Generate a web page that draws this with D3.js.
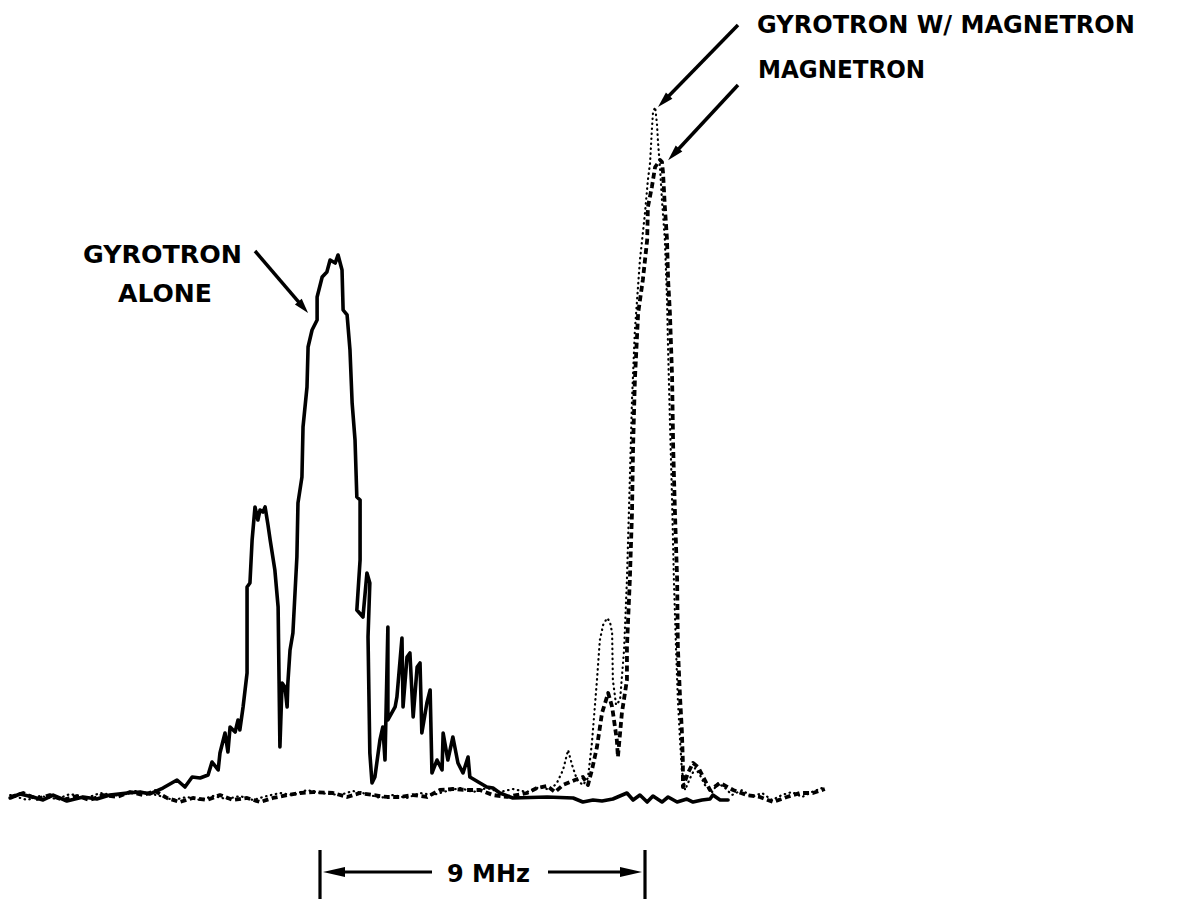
<!DOCTYPE html>
<html>
<head>
<meta charset="utf-8">
<script src="https://cdn.jsdelivr.net/npm/d3@7"></script>
<style>
  html, body { margin: 0; padding: 0; background: #fff; }
  svg { display: block; }
  text { font-family: "DejaVu Sans", "Liberation Sans", Arial, sans-serif; font-weight: bold; fill: #000; }
</style>
</head>
<body>
<svg id="chart" width="1185" height="899"></svg>
<script>
// ---------- DATA (frequency offset in MHz, relative amplitude in arbitrary units) ----------
const gyroAloneFreq = [-8.58,-8.31,-7.95,-7.67,-7.39,-7.01,-6.56,-6.18,-5.82,-5.34,-4.98,-4.71,-4.35,-3.96,-3.74,-3.54,-3.32,-3.10,-2.99,-2.82,-2.77,-2.63,-2.55,-2.49,-2.35,-2.27,-2.22,-2.13,-2.02,-2.02,-1.94,-1.88,-1.80,-1.72,-1.66,-1.58,-1.52,-1.44,-1.38,-1.25,-1.16,-1.11,-1.05,-0.97,-0.91,-0.89,-0.83,-0.75,-0.64,-0.61,-0.50,-0.47,-0.36,-0.33,-0.22,-0.08,-0.08,0.06,0.19,0.28,0.42,0.50,0.61,0.64,0.75,0.83,0.89,0.97,1.02,1.11,1.11,1.02,1.19,1.30,1.38,1.33,1.38,1.44,1.52,1.66,1.74,1.80,1.88,1.88,2.08,2.13,2.27,2.30,2.41,2.49,2.58,2.69,2.77,2.82,2.96,3.05,3.10,3.24,3.38,3.41,3.54,3.68,3.82,3.96,4.10,4.15,4.29,4.43,4.62,4.79,4.98,5.34,6.29,7.01,7.28,7.56,7.81,8.11,8.50,8.67,8.86,9.06,9.22,9.47,9.64,9.89,10.16,10.33,10.58,10.80,10.88,11.08,11.30];
const gyroAloneAmp  = [0.29,0.86,0.43,0,0.71,-0.14,0.43,0.14,0.71,1.0,1.14,0.86,1.71,2.86,1.86,3.29,3.14,3.57,5.43,4.29,6.71,9.57,6.86,10.43,9.71,11.43,10.0,13.29,18.14,30.43,31.0,37.14,41.86,40.0,41.43,41.14,41.86,39.29,37.14,32.86,27.57,7.57,16.71,16.14,13.29,16.71,21.43,23.86,34.71,42.43,46.14,53.29,59.0,64.71,67.14,68.57,71.86,74.71,75.43,77.14,76.71,77.86,75.71,70.0,69.29,64.29,56.71,51.43,43.29,42.86,34.29,27.14,26.14,32.43,31.0,23.29,6.71,2.43,3.29,8.57,10.43,5.71,24.71,11.43,13.29,14.71,23.14,13.29,20.43,21.0,11.86,19.0,19.57,9.57,13.86,15.71,3.86,5.71,4.29,9.57,5.71,9.0,5.29,3.86,6.14,3.29,2.86,2.43,1.86,1.71,1.0,0.29,0.43,0.29,-0.29,0,-0.14,0.14,1.0,0,0.71,-0.29,0.57,-0.29,0.43,-0.29,0.14,-0.29,0,0.14,0.71,0,0];

const magnetronFreq = [-8.58,-8.22,-7.84,-7.48,-7.12,-6.73,-6.37,-6.01,-5.62,-5.26,-4.90,-4.57,-4.24,-3.88,-3.52,-3.13,-2.77,-2.41,-2.02,-1.66,-1.30,-0.91,-0.55,-0.19,0.36,0.75,1.11,1.47,1.86,2.22,2.58,2.96,3.32,3.68,4.07,4.43,4.79,5.18,5.73,6.01,6.29,6.51,6.73,7.06,7.28,7.42,7.53,7.67,7.81,7.98,8.09,8.22,8.25,8.36,8.50,8.50,8.58,8.64,8.67,8.72,8.81,8.94,9.06,9.08,9.19,9.28,9.42,9.47,9.50,9.55,9.61,9.64,9.69,9.75,9.78,9.83,9.89,9.91,9.97,10.02,10.05,10.05,10.19,10.33,10.47,10.61,10.80,11.08,11.44,11.82,12.18,12.55,12.93,13.29,13.65,13.98];
const magnetronAmp  = [0.43,1.0,0.14,0.71,0,0.57,0,0.71,0.43,1.14,0.71,1.29,0.29,-0.29,0.29,0,0.71,0,0.29,-0.29,0.29,0.71,1.0,1.14,1.0,0.43,1.0,0.71,0.43,0.43,0.71,0.43,1.43,1.57,1.43,1.43,0.71,0.43,1.0,1.71,2.0,1.14,2.14,2.86,3.29,2.14,4.29,7.57,12.43,15.29,13.29,8.57,6.14,12.43,17.14,21.86,31.43,41.0,50.43,60.0,69.57,74.29,80.0,84.71,87.57,90.43,91.43,91.14,89.57,84.71,80.0,74.29,69.57,60.43,50.43,41.0,31.43,21.86,14.71,10.0,5.29,1.86,3.86,5.29,4.71,3.29,1.43,2.43,1.43,0.71,0.43,-0.29,0.43,1.0,1.0,1.57];

const gyroMagFreq = [-8.58,-8.11,-7.75,-7.28,-6.92,-6.45,-6.09,-5.54,-5.12,-4.76,-4.43,-4.07,-3.68,-3.32,-2.96,-2.58,-2.22,-1.86,-1.47,-1.11,-0.75,-0.36,0,0.55,0.91,1.30,1.66,2.02,2.41,2.77,3.13,3.52,3.88,4.24,4.62,4.98,5.34,5.73,6.09,6.37,6.56,6.73,6.87,6.98,7.12,7.28,7.42,7.53,7.67,7.75,7.84,7.95,8.03,8.09,8.11,8.20,8.31,8.42,8.50,8.58,8.64,8.72,8.86,9.00,9.08,9.14,9.19,9.22,9.28,9.33,9.36,9.42,9.47,9.55,9.61,9.64,9.69,9.75,9.80,9.86,9.91,9.97,10.02,10.11,10.25,10.39,10.52,10.66,10.86,11.02,11.22,11.41,11.69,11.96,12.24,12.52,12.79,13.07,13.35,13.62,13.90];
const gyroMagAmp  = [0.71,0,0.57,0.14,0.86,0.29,1.0,0.57,1.29,1.0,0.57,0,0.43,0,0.57,0.14,0.57,0,0.57,1.0,0.71,1.43,1.0,0.71,1.29,0.86,0.29,0.71,0.29,1.0,0.71,1.29,1.71,1.14,1.71,1.14,1.57,1.14,1.86,1.43,2.43,4.29,7.14,5.0,2.86,2.14,3.14,8.14,17.14,22.86,25.0,26.0,25.43,23.86,17.14,13.57,14.29,21.43,31.43,45.71,57.14,67.14,77.14,83.86,88.57,91.0,95.71,98.14,99.0,96.71,94.0,90.0,85.71,80.0,71.43,64.29,54.29,42.86,31.43,21.43,14.29,8.57,4.29,1.43,3.14,4.57,3.57,2.14,1.14,2.43,1.71,0.71,1.43,0.43,1.0,0,0.71,1.14,0.43,1.14,1.71];

const seriesLabels = ["GYROTRON ALONE", "MAGNETRON", "GYROTRON W/ MAGNETRON"];
const scaleSpanMHz = 9;
const scaleLabel = "9 MHz";

// ---------- SCALES ----------
const svg = d3.select("#chart");
const x = d3.scaleLinear().domain([0, scaleSpanMHz]).range([320, 645]);
const y = d3.scaleLinear().domain([0, 100]).range([800, 100]);

const line = d3.line().x(d => x(d[0])).y(d => y(d[1])).curve(d3.curveLinear);
const zip = (a, b) => a.map((v, i) => [v, b[i]]);

// ---------- TRACES ----------
svg.append("path").datum(zip(gyroAloneFreq, gyroAloneAmp))
  .attr("d", line).attr("fill", "none").attr("stroke", "#000")
  .attr("stroke-width", 3.6).attr("stroke-linejoin", "round").attr("stroke-linecap", "round");

svg.append("path").datum(zip(magnetronFreq, magnetronAmp))
  .attr("d", line).attr("fill", "none").attr("stroke", "#000")
  .attr("stroke-width", 3.8).attr("stroke-dasharray", "6,3.5").attr("stroke-linejoin", "round");

svg.append("path").datum(zip(gyroMagFreq, gyroMagAmp))
  .attr("d", line).attr("fill", "none").attr("stroke", "#000")
  .attr("stroke-width", 2.2).attr("stroke-dasharray", "0.5,4.5").attr("stroke-linecap", "round");

// ---------- ANNOTATION ARROWS ----------
function arrow(x1, y1, x2, y2, headLen, headHalf, width) {
  const dx = x2 - x1, dy = y2 - y1, L = Math.hypot(dx, dy);
  const ux = dx / L, uy = dy / L;
  const bx = x2 - ux * headLen, by = y2 - uy * headLen;
  svg.append("line").attr("x1", x1).attr("y1", y1).attr("x2", bx + ux * 2).attr("y2", by + uy * 2)
    .attr("stroke", "#000").attr("stroke-width", width);
  svg.append("path")
    .attr("d", `M${x2},${y2} L${bx - uy * headHalf},${by + ux * headHalf} L${bx + uy * headHalf},${by - ux * headHalf} Z`)
    .attr("fill", "#000");
}

// Gyrotron alone label
const tGyro = svg.append("text").attr("font-size", 25);
tGyro.append("tspan").attr("x", 83).attr("y", 263).attr("textLength", 159).attr("lengthAdjust", "spacingAndGlyphs").text("GYROTRON");
tGyro.append("tspan").attr("x", 118).attr("y", 302).attr("textLength", 94).attr("lengthAdjust", "spacingAndGlyphs").text("ALONE");
arrow(255, 251, x(-0.33), 313, 15, 4.5, 3.5);

// Right labels
svg.append("text").attr("font-size", 25).attr("x", 757).attr("y", 33)
  .attr("textLength", 378).attr("lengthAdjust", "spacingAndGlyphs").text(seriesLabels[2]);
svg.append("text").attr("font-size", 25).attr("x", 758).attr("y", 78)
  .attr("textLength", 167).attr("lengthAdjust", "spacingAndGlyphs").text(seriesLabels[1]);
arrow(738, 25, x(9.36), y(99), 16, 4.5, 3.5);
arrow(738, 85, x(9.64), y(91.4), 16, 4.5, 3.5);

// ---------- 9 MHz SCALE BAR ----------
const barTop = 850, barBot = 899, barY = 872;
[0, scaleSpanMHz].forEach(v => {
  svg.append("line").attr("x1", x(v)).attr("x2", x(v)).attr("y1", barTop).attr("y2", barBot)
    .attr("stroke", "#000").attr("stroke-width", 3.2);
});
arrow(432, barY, x(0) + 3, barY, 22, 5, 3);
arrow(548, barY, x(scaleSpanMHz) - 3, barY, 22, 5, 3);
svg.append("text").attr("font-size", 25).attr("x", 447).attr("y", 882)
  .attr("textLength", 83).attr("lengthAdjust", "spacingAndGlyphs").text(scaleLabel);
</script>
</body>
</html>
